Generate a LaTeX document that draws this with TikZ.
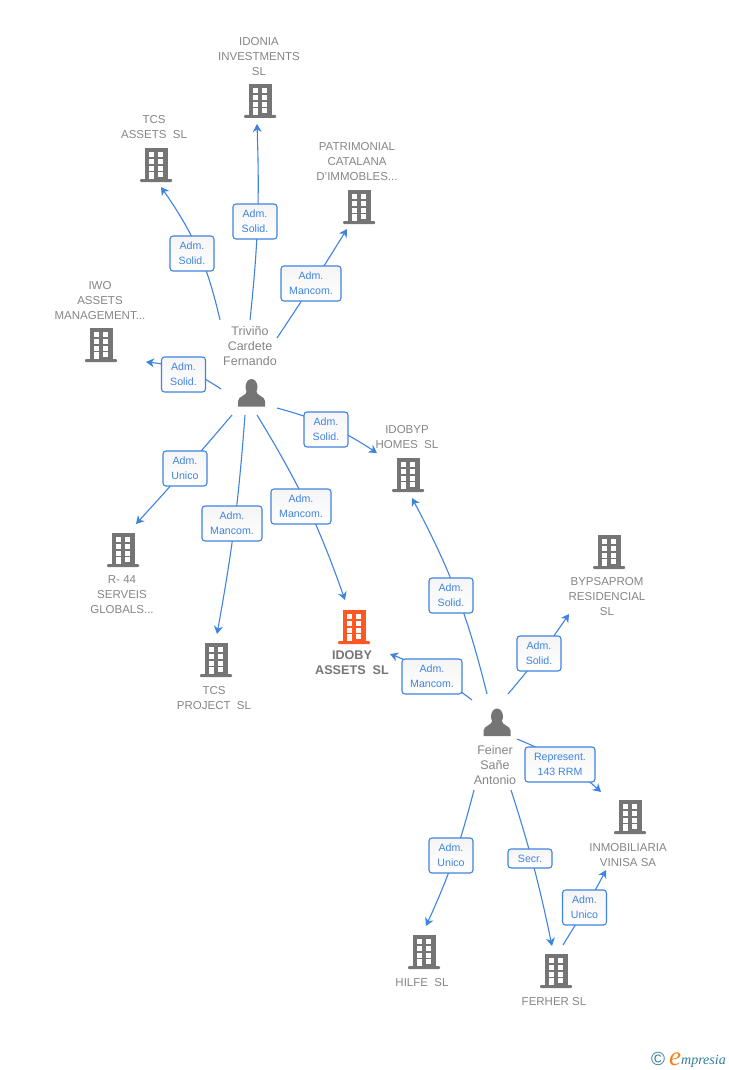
\documentclass[tikz,border=0pt]{standalone}
\usepackage{fontspec}
\setmainfont{Liberation Sans}
\newfontfamily\logofont{Liberation Serif}
\usetikzlibrary{arrows.meta}
\definecolor{iconGray}{HTML}{757575}
\definecolor{iconOrange}{HTML}{FF5722}
\definecolor{textGray}{HTML}{858585}
\definecolor{linkBlue}{HTML}{3F83E0}
\definecolor{logoTeal}{HTML}{2F7F98}
\definecolor{logoOrange}{HTML}{F5821F}
\newcommand{\bldgicon}[1]{%
  \begin{scope}[shift={(path picture bounding box.center)}]
    \fill[#1] (-11.5,-17) rectangle (11.5,15);
    \fill[#1,rounded corners=1] (-16,14) rectangle (16,17);
    \foreach \rowy in {-12.7,-5.7,1.3} {
      \fill[white] (-7.3,\rowy) rectangle ++(5,4.4);
      \fill[white] (2,\rowy) rectangle ++(5,4.4);
    }
    \fill[white] (-7.3,7.3) rectangle (-2.3,14);
    \fill[white] (2,7.3) rectangle (7,11.7);
  \end{scope}}
\newcommand{\personicon}{%
  \begin{scope}[shift={(path picture bounding box.center)}]
    \fill[iconGray] (0,-6.5) ellipse (6 and 8);
    \fill[iconGray] (-13.5,13) -- (-13.5,7.5) .. controls (-13,2) and (-5,3) .. (-4.5,-3) -- (4.5,-3) .. controls (5,3) and (13,2) .. (13.5,7.5) -- (13.5,13) -- cycle;
  \end{scope}}
\tikzset{
  company/.style={inner sep=0pt,minimum width=32pt,minimum height=34pt,path picture={\bldgicon{#1}}},
  company/.default=iconGray,
  person/.style={inner sep=0pt,minimum width=29pt,minimum height=29pt,path picture={\personicon}},
  compname/.style={align=center,inner sep=0pt,text=textGray,font=\fontsize{11.5}{15}\selectfont},
  mainname/.style={align=center,inner sep=0pt,text=iconGray,font=\fontsize{12.6}{15}\selectfont\bfseries},
  persname/.style={align=center,inner sep=0pt,text=textGray,font=\fontsize{12.5}{15}\selectfont},
  rolebox/.style={draw=linkBlue,line width=1.1pt,rounded corners=3pt,top color=black!4,bottom color=white,
    inner sep=0pt,minimum width=#1,minimum height=35pt,align=center,text=linkBlue,font=\fontsize{10.6}{15}\selectfont},
  rolebox/.default=44pt,
  link/.style={draw=linkBlue,line width=1.1pt,-{Stealth[length=8pt,width=9pt,inset=2.5pt]}}
}
\begin{document}
\begin{tikzpicture}[x=1pt,y=-1pt]
  \useasboundingbox (0,0) rectangle (728,1070);

  \node[company] (idonia) at (260,101) {};
  \node[company] (tcsassets) at (156,165) {};
  \node[company] (patrimonial) at (359,207) {};
  \node[company] (iwo) at (101,345) {};
  \node[company] (idobyp) at (408,475) {};
  \node[company] (rfortyfour) at (123,550) {};
  \node[company] (tcsproject) at (216,660) {};
  \node[company=iconOrange] (idoby) at (354,627) {};
  \node[company] (bypsaprom) at (609,552) {};
  \node[company] (vinisa) at (630,817) {};
  \node[company] (hilfe) at (424,952) {};
  \node[company] (ferher) at (556,971) {};

  \node[compname] (idonianame) at (259,57) {IDONIA\\INVESTMENTS\\SL};
  \node[compname] (tcsassetsname) at (154,127.5) {TCS\\ASSETS~ SL};
  \node[compname] (patrimonialname) at (357,162) {PATRIMONIAL\\CATALANA\\D'IMMOBLES...};
  \node[compname] (iwoname) at (100,301) {IWO\\ASSETS\\MANAGEMENT...};
  \node[compname] (idobypname) at (407,437.5) {IDOBYP\\HOMES~ SL};
  \node[compname] (rfortyfourname) at (122,595) {R- 44\\SERVEIS\\GLOBALS...};
  \node[compname] (tcsprojectname) at (214,698.5) {TCS\\PROJECT~ SL};
  \node[mainname] (idobyname) at (352,662.5) {IDOBY\\ASSETS~ SL};
  \node[compname] (bypsapromname) at (607,597) {BYPSAPROM\\RESIDENCIAL\\SL};
  \node[compname] (vinisaname) at (628,855.5) {INMOBILIARIA\\VINISA SA};
  \node[compname] (hilfename) at (422,983) {HILFE~ SL};
  \node[compname] (ferhername) at (554,1002) {FERHER SL};

  \node[person] (trivino) at (251.5,393.5) {};
  \node[person] (feiner) at (497,723) {};
  \node[persname] (trivinoname) at (250,346) {Triviño\\Cardete\\Fernando};
  \node[persname] (feinername) at (495,765) {Feiner\\Sañe\\Antonio};

  \draw[link] ([shift={(-1.5,-73.5)}]trivino.center) to[bend right=4] ([shift={(-3,23)}]idonia.center);
  \draw[link] ([shift={(-31.5,-73.5)}]trivino.center) to[bend right=11] ([shift={(5,22)}]tcsassets.center);
  \draw[link] ([shift={(25.5,-55.5)}]trivino.center) to[bend right=1] ([shift={(-12,22)}]patrimonial.center);
  \draw[link] ([shift={(-30.5,-4.5)}]trivino.center) to[bend right=14] ([shift={(45,17)}]iwo.center);
  \draw[link] ([shift={(25.5,14.5)}]trivino.center) to[bend left=9] ([shift={(-31,-22)}]idobyp.center);
  \draw[link] ([shift={(-19.5,21.5)}]trivino.center) to[bend left=1] ([shift={(13,-26)}]rfortyfour.center);
  \draw[link] ([shift={(-6.5,21.5)}]trivino.center) to[bend left=3] ([shift={(1,-26)}]tcsproject.center);
  \draw[link] ([shift={(5.5,21.5)}]trivino.center) to[bend left=6] ([shift={(-9,-27)}]idoby.center);
  \draw[link] ([shift={(-10,-29)}]feiner.center) to[bend right=7] ([shift={(4,23)}]idobyp.center);
  \draw[link] ([shift={(-25,-23)}]feiner.center) to[bend right=8] ([shift={(36,27)}]idoby.center);
  \draw[link] ([shift={(11,-29)}]feiner.center) to[bend right=3] ([shift={(-40,62)}]bypsaprom.center);
  \draw[link] ([shift={(20,16)}]feiner.center) to[bend left=10] ([shift={(-29,-25)}]vinisa.center);
  \draw[link] ([shift={(-23,67)}]feiner.center) to[bend left=5] ([shift={(2,-26)}]hilfe.center);
  \draw[link] ([shift={(14,67)}]feiner.center) to[bend left=3] ([shift={(-4,-25)}]ferher.center);
  \draw[link] ([shift={(7,-26)}]ferher.center) to[bend right=2] ([shift={(-24,53)}]vinisa.center);

  \node[rolebox] (roleidonia) at (255,221.5) {Adm.\\Solid.};
  \node[rolebox] (roletcsassets) at (192,253.5) {Adm.\\Solid.};
  \node[rolebox=60pt] (rolepatrimonial) at (311,283.5) {Adm.\\Mancom.};
  \node[rolebox] (roleiwo) at (183.5,374.5) {Adm.\\Solid.};
  \node[rolebox] (roleidobyp) at (326,429.5) {Adm.\\Solid.};
  \node[rolebox] (rolerfortyfour) at (185,468.5) {Adm.\\Unico};
  \node[rolebox=60pt] (roletcsproject) at (232,523.5) {Adm.\\Mancom.};
  \node[rolebox=60pt] (roleidoby) at (301,506.5) {Adm.\\Mancom.};
  \node[rolebox] (rolefeineridobyp) at (451,595.5) {Adm.\\Solid.};
  \node[rolebox=60pt] (rolefeineridoby) at (432,676.5) {Adm.\\Mancom.};
  \node[rolebox] (rolebypsaprom) at (539,653.5) {Adm.\\Solid.};
  \node[rolebox=70pt] (rolevinisa) at (560,764.5) {Represent.\\143 RRM};
  \node[rolebox] (rolehilfe) at (451,855.5) {Adm.\\Unico};
  \node[rolebox,minimum height=19pt] (roleferher) at (530,858.5) {Secr.};
  \node[rolebox] (roleferhervinisa) at (584.5,907.5) {Adm.\\Unico};

  \node[inner sep=0pt,text=logoTeal,font=\fontsize{19}{19}\selectfont] (logocopy) at (658,1059) {©};
  \node[inner sep=0pt,anchor=base west,text=logoOrange,font=\logofont\itshape\fontsize{27}{27}\selectfont] (logoe) at (669,1065) {e};
  \node[inner sep=0pt,anchor=base west,text=logoTeal,font=\logofont\itshape\fontsize{14}{14}\selectfont] (logotext) at (681,1064) {mpresia};
\end{tikzpicture}
\end{document}
